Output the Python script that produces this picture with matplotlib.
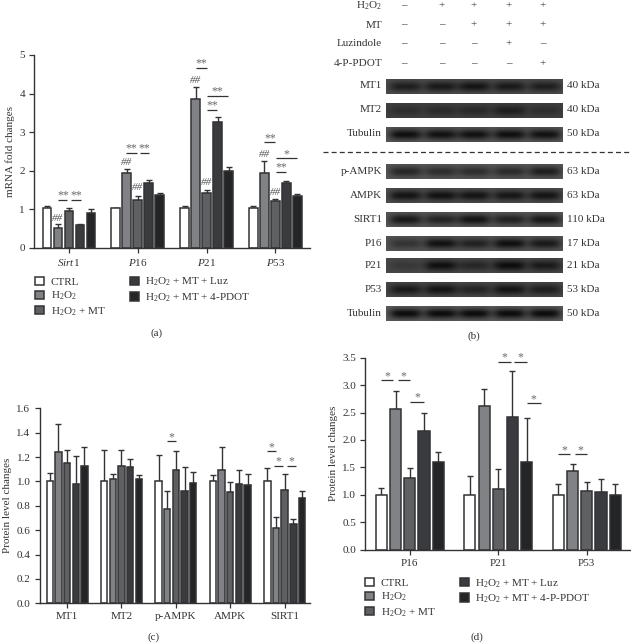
import numpy as np
import matplotlib
matplotlib.use('Agg')
import matplotlib.pyplot as plt

plt.rcParams['font.family'] = ['Liberation Serif', 'DejaVu Serif']
plt.rcParams['mathtext.fontset'] = 'custom'
plt.rcParams['mathtext.rm'] = 'Liberation Serif'
plt.rcParams['mathtext.it'] = 'Liberation Serif:italic'
plt.rcParams['mathtext.default'] = 'regular'

W, H = 631, 643
INK = '#333335'
FS = 8
colors = ['#ffffff', '#808285', '#5f6062', '#3a3b3e', '#242526']

# panel a
a_groups = [r'$\mathit{Sirt}$1', r'$\mathit{P}$16', r'$\mathit{P}$21', r'$\mathit{P}$53']
a_means = [[1.02, 0.52, 0.96, 0.58, 0.90],
           [1.02, 1.93, 1.25, 1.68, 1.38],
           [1.02, 3.87, 1.43, 3.25, 2.00],
           [1.02, 1.94, 1.20, 1.68, 1.33]]
a_tops = [[1.07, 0.61, 1.03, 0.62, 1.00],
          [1.03, 2.05, 1.35, 1.76, 1.43],
          [1.07, 4.16, 1.51, 3.38, 2.09],
          [1.07, 2.24, 1.26, 1.73, 1.39]]
a_legend = ['CTRL', r'H$_2$O$_2$', r'H$_2$O$_2$ + MT', r'H$_2$O$_2$ + MT + Luz', r'H$_2$O$_2$ + MT + 4-PDOT']
# group, first bar, last bar, height, label
a_brackets = [(0, 1.03, 1.85, 1.24, '**'), (0, 2.18, 3.09, 1.24, '**'),
              (1, 0.97, 1.9, 2.47, '**'), (1, 2.18, 3.06, 2.47, '**'),
              (2, 1, 2, 4.67, '**'), (2, 2, 3.94, 3.94, '**'), (2, 2, 2.97, 3.57, '**'),
              (3, 1, 2, 2.73, '**'), (3, 2.06, 3.94, 2.32, '*'), (3, 2.06, 3, 1.97, '**')]
# group, bar, height
a_hash = [(0, 1, 0.76), (1, 1, 2.21), (1, 2, 1.55), (2, 1, 4.35), (2, 2, 1.70), (3, 1, 2.42), (3, 2, 1.44)]

# panel c
c_groups = ['MT1', 'MT2', 'p-AMPK', 'AMPK', 'SIRT1']
c_means = [[1.0, 1.24, 1.15, 0.98, 1.125],
           [1.0, 1.02, 1.13, 1.12, 1.02],
           [1.0, 0.77, 1.095, 0.92, 0.985],
           [1.0, 1.09, 0.91, 0.975, 0.97],
           [1.0, 0.615, 0.93, 0.65, 0.865]]
c_tops = [[1.07, 1.47, 1.26, 1.21, 1.28],
          [1.26, 1.06, 1.26, 1.18, 1.055],
          [1.22, 0.92, 1.25, 1.12, 1.08],
          [1.05, 1.28, 0.995, 1.09, 1.06],
          [1.11, 0.71, 1.06, 0.69, 0.92]]
c_brackets = [(2, 1, 2, 1.33, '*'), (4, 0, 1, 1.247, '*'), (4, 0.8, 1.8, 1.127, '*'), (4, 2.27, 3.27, 1.127, '*')]

# panel d
d_groups = ['P16', 'P21', 'P53']
d_means = [[1.0, 2.56, 1.30, 2.17, 1.60],
           [1.0, 2.62, 1.10, 2.42, 1.59],
           [1.0, 1.44, 1.07, 1.05, 0.99]]
d_tops = [[1.13, 2.90, 1.49, 2.50, 1.79],
          [1.34, 2.93, 1.48, 3.25, 2.40],
          [1.20, 1.57, 1.24, 1.29, 1.20]]
d_legend = ['CTRL', r'H$_2$O$_2$', r'H$_2$O$_2$ + MT', r'H$_2$O$_2$ + MT + Luz', r'H$_2$O$_2$ + MT + 4-P-PDOT']
d_brackets = [(0, 0, 0.82, 3.09, '*'), (0, 1.15, 2, 3.09, '*'), (0, 2, 3, 2.70, '*'),
              (1, 2.01, 2.86, 3.42, '*'), (1, 3.14, 3.99, 3.42, '*'), (1, 4, 5, 2.67, '*'),
              (2, 0, 0.82, 1.74, '*'), (2, 1.15, 2, 1.74, '*')]

# panel b
treatments = [r'H$_2$O$_2$', 'MT', 'Luzindole', '4-P-PDOT']
signs = [['–', '+', '+', '+', '+'],
         ['–', '–', '+', '+', '+'],
         ['–', '–', '–', '+', '–'],
         ['–', '–', '–', '–', '+']]
blot_names = ['MT1', 'MT2', 'Tubulin', 'p-AMPK', 'AMPK', 'SIRT1', 'P16', 'P21', 'P53', 'Tubulin']
blot_kda = ['40 kDa', '40 kDa', '50 kDa', '63 kDa', '63 kDa', '110 kDa', '17 kDa', '21 kDa', '53 kDa', '50 kDa']
blot_bg = [0.30, 0.25, 0.34, 0.34, 0.31, 0.34, 0.33, 0.28, 0.28, 0.36]
blot_bands = [[0.12, 0.10, 0.08, 0.10, 0.12],
              [0.18, 0.17, 0.16, 0.12, 0.18],
              [0.06, 0.07, 0.07, 0.06, 0.07],
              [0.15, 0.18, 0.18, 0.17, 0.12],
              [0.08, 0.07, 0.08, 0.09, 0.08],
              [0.10, 0.14, 0.08, 0.13, 0.10],
              [0.20, 0.07, 0.13, 0.06, 0.10],
              [0.22, 0.06, 0.15, 0.05, 0.10],
              [0.10, 0.08, 0.14, 0.08, 0.12],
              [0.05, 0.05, 0.05, 0.05, 0.05]]
blot_top = [79, 103, 127, 164, 188, 212, 236, 258, 282, 306]
lane_pos = [0.11, 0.31, 0.50, 0.70, 0.90]
sign_x = [404, 442, 474, 509, 543]
sign_y = [6, 25, 44, 64]

fig = plt.figure(figsize=(W / 100, H / 100), dpi=100)


def box(left, top, right, bottom):
    return [left / W, 1 - bottom / H, (right - left) / W, (bottom - top) / H]


def bar_panel(rect, means, tops, groups, step, xlim, ylim, yticks, fmt, ylabel, bw=0.78, lpad=3):
    ax = fig.add_axes(box(*rect))
    bars = []
    for g in range(len(means)):
        x = g * step + np.arange(5)
        err = np.array(tops[g]) - np.array(means[g])
        for i in range(5):
            b = ax.bar(x[i], means[g][i], bw, color=colors[i], edgecolor=INK, linewidth=1.1, zorder=2)
            ax.errorbar(x[i], means[g][i], yerr=[[0], [err[i]]], color=INK, elinewidth=1.0,
                        capsize=2.4, capthick=1.0, zorder=1)
            if g == 0:
                bars.append(b[0])
    ax.set_xlim(*xlim)
    ax.set_ylim(*ylim)
    ax.set_yticks(yticks)
    ax.set_yticklabels([fmt % t for t in yticks])
    ax.set_xticks([g * step + 2 for g in range(len(means))])
    ax.set_xticklabels(groups)
    ax.spines['top'].set_visible(False)
    ax.spines['right'].set_visible(False)
    for s in ['left', 'bottom']:
        ax.spines[s].set_color(INK)
        ax.spines[s].set_linewidth(1.0)
    ax.tick_params(axis='both', length=3.5, width=0.9, color=INK, labelcolor=INK, labelsize=FS, pad=3)
    ax.set_ylabel(ylabel, fontsize=FS, color=INK, labelpad=lpad)
    ax.patch.set_alpha(0)
    return ax, bars


def add_brackets(ax, brackets, step):
    for g, b0, b1, y, lab in brackets:
        x0, x1 = g * step + b0, g * step + b1
        ax.plot([x0, x1], [y, y], color=INK, lw=0.9, clip_on=False, solid_capstyle='butt')
        ax.annotate(lab, ((x0 + x1) / 2, y), xytext=(0, -1.2), textcoords='offset points', ha='center',
                    va='bottom', fontsize=8.5, color='#6a6a6a', annotation_clip=False)


def add_legend(bars, labels, x, y):
    fig.legend(bars, labels, ncol=2, loc='upper left', bbox_to_anchor=(x / W, 1 - y / H), frameon=False,
               fontsize=FS, labelcolor=INK, handlelength=0.8, handleheight=0.8, handletextpad=0.6,
               columnspacing=2.2, labelspacing=0.25, borderpad=0, borderaxespad=0)


# (a)
step_a = 6.25
ax_a, bars_a = bar_panel((34, 55, 310, 247.7), a_means, a_tops, a_groups, step_a, (-1.18, 23.9), (0, 5),
                         [0, 1, 2, 3, 4, 5], '%d', 'mRNA fold changes')
add_brackets(ax_a, a_brackets, step_a)
for g, b, y in a_hash:
    ax_a.text(g * step_a + b, y, '##', ha='center', va='center', fontsize=8, style='italic', color='#555555')
add_legend(bars_a, a_legend, 35, 276)

# (c)
step_c = 6.27
ax_c, _ = bar_panel((39.5, 408.3, 310, 603.3), c_means, c_tops, c_groups, step_c, (-1.18, 30), (0, 1.6),
                    [0, 0.2, 0.4, 0.6, 0.8, 1.0, 1.2, 1.4, 1.6], '%.1f', 'Protein level changes', bw=0.74)
add_brackets(ax_c, c_brackets, step_c)

# (d)
step_d = 6.23
ax_d, bars_d = bar_panel((365.3, 357.7, 630, 549.7), d_means, d_tops, d_groups, step_d, (-1.13, 17.5), (0, 3.5),
                         [0, 0.5, 1.0, 1.5, 2.0, 2.5, 3.0, 3.5], '%.1f', 'Protein level changes')
add_brackets(ax_d, d_brackets, step_d)
add_legend(bars_d, d_legend, 365, 577)

# (b) blots, drawn as images
yy, xx = np.mgrid[0:1:30j, 0:1:180j]
for i in range(len(blot_names)):
    ax = fig.add_axes(box(386, blot_top[i], 563, blot_top[i] + 15))
    img = np.full(xx.shape, blot_bg[i])
    for p, level in zip(lane_pos, blot_bands[i]):
        mask = np.exp(-((xx - p) / 0.092) ** 4) * np.exp(-((yy - 0.5) / 0.34) ** 2)
        img = img + (level - blot_bg[i]) * mask
    ax.imshow(img, cmap='gray', vmin=0, vmax=1, aspect='auto')
    ax.axis('off')

# overlay in pixel units for the text of (b) and the captions
ov = fig.add_axes([0, 0, 1, 1])
ov.set_xlim(0, W)
ov.set_ylim(H, 0)
ov.axis('off')
for r in range(4):
    ov.text(382, sign_y[r], treatments[r], ha='right', va='center', fontsize=FS, color=INK)
    for c in range(5):
        ov.text(sign_x[c], sign_y[r], signs[r][c], ha='center', va='center', fontsize=FS, color=INK)
for i in range(len(blot_names)):
    ym = blot_top[i] + 7
    ov.text(382, ym, blot_names[i], ha='right', va='center', fontsize=FS, color=INK)
    ov.text(567, ym, blot_kda[i], ha='left', va='center', fontsize=FS, color=INK)
ov.plot([323, 631], [152, 152], color=INK, lw=0.9, dashes=(4, 2.5))

ov.text(157, 333, '(a)', ha='center', va='center', fontsize=FS, color=INK)
ov.text(474, 336, '(b)', ha='center', va='center', fontsize=FS, color=INK)
ov.text(154, 637, '(c)', ha='center', va='center', fontsize=FS, color=INK)
ov.text(477, 637, '(d)', ha='center', va='center', fontsize=FS, color=INK)

fig.savefig('out.png', dpi=100)
